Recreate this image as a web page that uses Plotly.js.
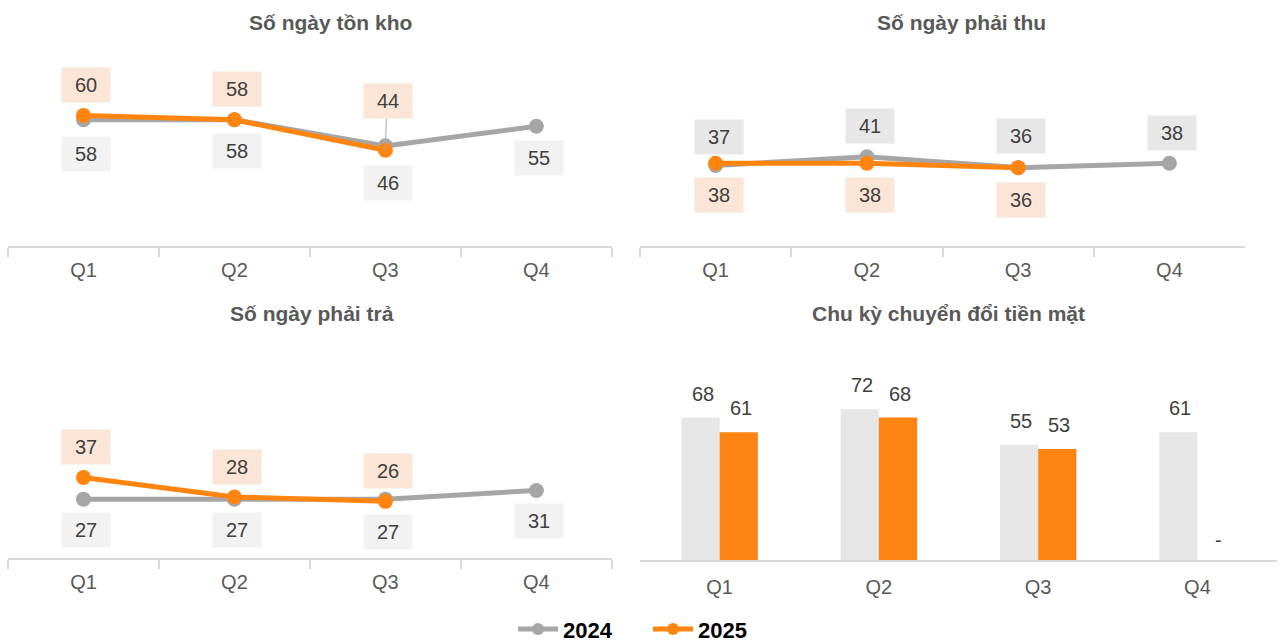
<!DOCTYPE html>
<html>
<head>
<meta charset="utf-8">
<script src="https://cdn.plot.ly/plotly-3.0.1.min.js"></script>
<style>
  html, body { margin: 0; padding: 0; background: #fff; }
  #chart { width: 1280px; height: 642px; }
</style>
</head>
<body>
<div id="chart"></div>
<script>
var quarters = ["Q1", "Q2", "Q3", "Q4"];

var tonKho2024 = [58, 58, 46, 55];
var tonKho2025 = [60, 58, 44, null];

var phaiThu2024 = [37, 41, 36, 38];
var phaiThu2025 = [38, 38, 36, null];

var phaiTra2024 = [27, 27, 27, 31];
var phaiTra2025 = [37, 28, 26, null];

var chuKy2024 = [68, 72, 55, 61];
var chuKy2025 = [61, 68, 53, null];

var titles = ["Số ngày tồn kho", "Số ngày phải thu", "Số ngày phải trả", "Chu kỳ chuyển đổi tiền mặt"];

var GRAY = "#a6a6a6";
var ORANGE = "#ff8510";
var FONT = "Liberation Sans, Arial, sans-serif";

function lineTrace(y, name, color, ax, legend) {
  return {
    x: quarters, y: y, name: name, type: "scatter", mode: "lines+markers",
    line: {color: color, width: 5},
    marker: {color: color, size: 15},
    xaxis: "x" + ax, yaxis: "y" + ax,
    showlegend: legend, legendgroup: name,
    hoverinfo: "skip"
  };
}

var data = [
  lineTrace(tonKho2024, "2024", GRAY, "", true),
  lineTrace(tonKho2025, "2025", ORANGE, "", true),
  lineTrace(phaiThu2024, "2024", GRAY, "2", false),
  lineTrace(phaiThu2025, "2025", ORANGE, "2", false),
  lineTrace(phaiTra2024, "2024", GRAY, "3", false),
  lineTrace(phaiTra2025, "2025", ORANGE, "3", false),
  {
    x: quarters, y: chuKy2024, type: "bar", name: "2024",
    marker: {color: "#e6e6e6"},
    xaxis: "x4", yaxis: "y4", showlegend: false, hoverinfo: "skip"
  },
  {
    x: quarters, y: chuKy2025.map(function (v) { return v === null ? 0 : v; }), type: "bar", name: "2025",
    marker: {color: "#fd8410"},
    xaxis: "x4", yaxis: "y4", showlegend: false, hoverinfo: "skip"
  }
];

var LABEL_FONT = {size: 20, color: "#404040", family: FONT};

// data labels in boxes; dir = +1 above the point, -1 below
var annotations = [];
function addLabels(vals, ax, bg, dir, dist) {
  vals.forEach(function (v, i) {
    if (v === null) return;
    annotations.push({
      x: quarters[i], y: v, xref: "x" + ax, yref: "y" + ax,
      text: String(v), showarrow: false,
      yshift: dir * dist[i], xshift: 3,
      width: 46, height: 32, bgcolor: bg,
      font: LABEL_FONT
    });
  });
}
var BG_O = "#fbe5d6", BG_G = "#f2f2f2", BG_G2 = "#e7e7e7";
addLabels(tonKho2025, "", BG_O, 1, [30, 31, 49, 0]);
addLabels(tonKho2024, "", BG_G, -1, [34, 31, 37, 32]);
addLabels(phaiThu2024, "2", BG_G2, 1, [28, 31, 32, 30]);
addLabels(phaiThu2025, "2", BG_O, -1, [32, 32, 32, 0]);
addLabels(phaiTra2025, "3", BG_O, 1, [30, 30, 30, 0]);
addLabels(phaiTra2024, "3", BG_G, -1, [31, 31, 33, 31]);

// leader line from the Q3 label of the first panel
annotations.push({
  x: quarters[2], y: tonKho2025[2], xref: "x", yref: "y",
  text: "", showarrow: true, arrowhead: 0, arrowwidth: 1, arrowcolor: "#a6a6a6",
  ax: 1, ay: -33, standoff: 0
});

// bar labels
function addBarLabels(vals, shift) {
  vals.forEach(function (v, i) {
    annotations.push({
      x: quarters[i], y: v === null ? 0 : v, xref: "x4", yref: "y4",
      text: v === null ? "-" : String(v), showarrow: false,
      xshift: shift, yshift: v === null ? 20 : 24,
      font: LABEL_FONT
    });
  });
}
addBarLabels(chuKy2024, -17);
addBarLabels(chuKy2025, 21);

var titlePos = [[0.258, 0.9657], [0.751, 0.9657], [0.244, 0.511], [0.741, 0.511]];
titles.forEach(function (t, i) {
  annotations.push({
    text: "<b>" + t + "</b>", xref: "paper", yref: "paper",
    x: titlePos[i][0], y: titlePos[i][1], xanchor: "center", yanchor: "middle",
    showarrow: false,
    font: {size: 21, color: "#595959", family: FONT}
  });
});

function xAxis(domain, anchor, ticks, standoff) {
  return {
    domain: domain, anchor: anchor, type: "category", range: [-0.5, 3.5],
    showgrid: false, zeroline: false,
    showline: true, linecolor: "#d9d9d9", linewidth: 2,
    ticks: ticks ? "outside" : "", tickson: "boundaries", ticklen: 9,
    tickcolor: "#d9d9d9", tickwidth: 2,
    ticklabelstandoff: standoff,
    tickfont: {size: 20, color: "#595959", family: FONT},
    fixedrange: true
  };
}
function yAxis(domain, anchor, top) {
  return {
    domain: domain, anchor: anchor, range: [0, top],
    visible: false, fixedrange: true
  };
}

var layout = {
  width: 1280, height: 642,
  margin: {l: 0, r: 0, t: 0, b: 0, autoexpand: false},
  paper_bgcolor: "#ffffff", plot_bgcolor: "#ffffff",
  font: {family: FONT, color: "#404040"},
  barmode: "group", bargap: 0.52, bargroupgap: 0,
  xaxis: xAxis([0.00625, 0.478], "y", true, 5),
  yaxis: yAxis([0.6168, 0.922], "x", 90),
  xaxis2: xAxis([0.5, 0.9727], "y2", true, 5),
  yaxis2: yAxis([0.6168, 0.922], "x2", 90),
  xaxis3: xAxis([0.00625, 0.478], "y3", true, 5),
  yaxis3: yAxis([0.131, 0.436], "x3", 90),
  xaxis4: xAxis([0.5, 0.9977], "y4", false, 8),
  yaxis4: yAxis([0.1277, 0.4704], "x4", 105),
  showlegend: true,
  legend: {
    orientation: "h", x: 0.4008, xanchor: "left", y: 0.02, yanchor: "middle",
    font: {size: 22, color: "#000000", family: FONT, weight: "bold"},
    entrywidth: 80, itemwidth: 40, itemsizing: "constant"
  },
  annotations: annotations
};

Plotly.newPlot("chart", data, layout, {displayModeBar: false, staticPlot: true});
</script>
</body>
</html>
